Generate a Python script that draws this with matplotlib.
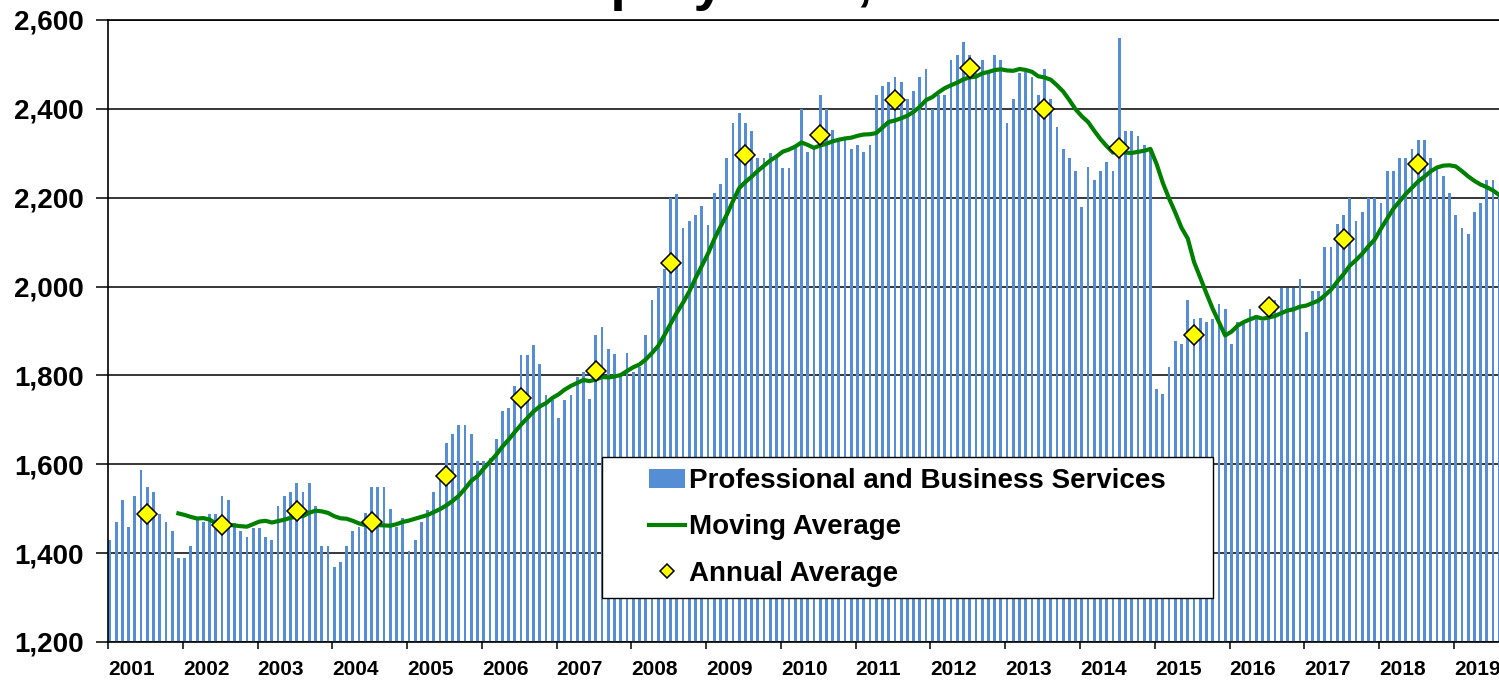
import numpy as np
import pandas as pd
import matplotlib
matplotlib.use("Agg")
import matplotlib.pyplot as plt
from matplotlib.patches import Rectangle
from matplotlib.ticker import FuncFormatter

plt.rcParams["font.family"] = ["Liberation Sans", "DejaVu Sans"]
plt.rcParams["font.weight"] = "bold"

# monthly employment (thousands), Jan 2001 .. Aug 2019, one row per year
monthly_jobs = [
    1430, 1470, 1519, 1458, 1528, 1587, 1548, 1537, 1488, 1470, 1450, 1388,  # 2001
    1388, 1417, 1476, 1470, 1488, 1487, 1528, 1519, 1467, 1450, 1437, 1457,  # 2002
    1457, 1437, 1430, 1507, 1528, 1537, 1557, 1537, 1557, 1507, 1417, 1417,  # 2003
    1368, 1380, 1417, 1450, 1458, 1491, 1548, 1548, 1548, 1499, 1458, 1478,  # 2004
    1405, 1430, 1470, 1498, 1537, 1570, 1648, 1669, 1689, 1689, 1669, 1607,  # 2005
    1607, 1615, 1657, 1719, 1727, 1777, 1846, 1846, 1868, 1825, 1757, 1745,  # 2006
    1705, 1745, 1757, 1797, 1808, 1748, 1890, 1910, 1860, 1848, 1800, 1851,  # 2007
    1807, 1820, 1892, 1970, 1999, 2040, 2200, 2209, 2131, 2148, 2160, 2181,  # 2008
    2139, 2210, 2231, 2289, 2369, 2390, 2369, 2351, 2289, 2289, 2300, 2289,  # 2009
    2268, 2268, 2311, 2400, 2302, 2311, 2431, 2400, 2353, 2334, 2334, 2310,  # 2010
    2319, 2302, 2319, 2431, 2452, 2461, 2471, 2460, 2422, 2440, 2471, 2489,  # 2011
    2400, 2431, 2431, 2510, 2522, 2551, 2522, 2480, 2510, 2480, 2522, 2510,  # 2012
    2368, 2422, 2480, 2484, 2471, 2431, 2489, 2422, 2360, 2310, 2289, 2260,  # 2013
    2180, 2269, 2240, 2260, 2280, 2260, 2559, 2351, 2351, 2339, 2319, 2311,  # 2014
    1770, 1758, 1820, 1878, 1870, 1970, 1928, 1929, 1920, 1927, 1961, 1949,  # 2015
    1870, 1921, 1921, 1949, 1935, 1922, 1960, 1970, 1997, 1997, 1997, 2018,  # 2016
    1898, 1990, 1990, 2089, 2089, 2140, 2160, 2200, 2148, 2168, 2200, 2200,  # 2017
    2189, 2260, 2260, 2289, 2289, 2310, 2330, 2330, 2289, 2270, 2250, 2210,  # 2018
    2160, 2131, 2118, 2168, 2189, 2240, 2240, 2206,                          # 2019
]

years = list(range(2001, 2020))
annual_avg = [1489, 1463, 1495, 1469, 1574, 1750, 1810, 2052, 2296,
              2341, 2421, 2491, 2399, 2313, 1890, 1955, 2107, 2277]

W, H = 1499, 688
fig = plt.figure(figsize=(W / 100, H / 100), dpi=100)
ax = fig.add_axes([108 / W, 46 / H, (W - 108) / W, 622 / H])

x = np.arange(len(monthly_jobs))
bars = ax.bar(x, monthly_jobs, width=0.45, color="#558ED5", zorder=2)

# 12-month trailing moving average
ma = pd.Series(monthly_jobs).rolling(12).mean()
line, = ax.plot(x, ma, color="#008000", lw=3, zorder=3)

xa = 12 * np.arange(len(annual_avg)) + 6
pts, = ax.plot(xa, annual_avg, "D", ms=10, mfc="#FFFF00", mec="black",
               mew=1.1, ls="none", zorder=4)

ax.set_ylim(1200, 2600)
ax.set_xlim(-0.3, 222.95)
ax.set_yticks(range(1200, 2601, 200))
ax.yaxis.set_major_formatter(FuncFormatter(lambda v, p: f"{int(v):,}"))
ax.set_xticks([12 * i - 0.3 for i in range(len(years))])
ax.set_xticklabels([str(y) for y in years], ha="left")

ax.yaxis.grid(True, color="black", lw=1.1)
ax.set_axisbelow(True)
ax.spines["right"].set_visible(False)
for s in ["left", "bottom", "top"]:
    ax.spines[s].set_linewidth(1.2)
ax.tick_params(axis="y", labelsize=20, length=8.5, width=1.1, pad=9)
ax.tick_params(axis="x", labelsize=15, length=5, width=1.1, pad=8)

# legend with its own frame drawn separately
frame = Rectangle((602 / W, 1 - 598 / H), 611 / W, 141 / H,
                  transform=fig.transFigure, fc="white", ec="black",
                  lw=1, zorder=4.5, clip_on=False)
ax.add_patch(frame)
leg = ax.legend([bars, line, pts],
                ["Professional and Business Services", "Moving Average", "Annual Average"],
                loc="upper left", bbox_to_anchor=(649 / W, 1 - 468 / H),
                bbox_transform=fig.transFigure, frameon=False, fontsize=20,
                labelspacing=0.73, handlelength=1.3, handletextpad=0.15,
                borderpad=0, borderaxespad=0, markerscale=0.7)
leg.set_zorder(5)

# title is cut off by the top edge of the image
fig.text(524 / W, 1 + 1 / H, "Employment, ", fontsize=40, fontweight="bold",
         ha="left", va="baseline")

fig.savefig("out.png", dpi=100)
